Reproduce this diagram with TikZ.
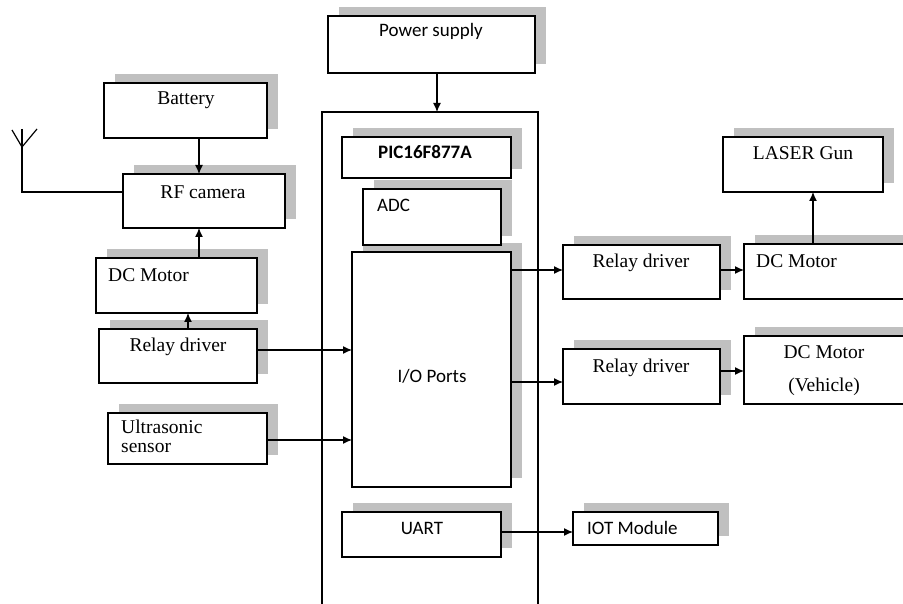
\documentclass[tikz,border=0pt]{standalone}
\usepackage{fontspec}
\setmainfont{Liberation Serif}
\newfontfamily\calib{Carlito}
\usetikzlibrary{arrows.meta,shadows}
\definecolor{shadowgray}{HTML}{C0C0C0}
\newcommand\bx[5]{\node[box,minimum width={(#4-#2)*1pt},minimum height={(#5-#3)*1pt}] (#1) at ({(#2+#4)/2},{(#3+#5)/2}) {};}
\newcommand\bxn[5]{\node[plainbox,minimum width={(#4-#2)*1pt},minimum height={(#5-#3)*1pt}] (#1) at ({(#2+#4)/2},{(#3+#5)/2}) {};}
\begin{document}
\begin{tikzpicture}[x=1pt,y=-1pt,
  plainbox/.style={draw=black,line width=1.2pt,fill=white,inner sep=0pt,outer sep=0pt},
  box/.style={plainbox,drop shadow={shadow xshift=11pt,shadow yshift=9pt,opacity=1,fill=shadowgray}},
  arr/.style={line width=1.2pt,-{Latex[length=9pt,width=8pt]}},
  conn/.style={line width=1.2pt},
  serif/.style={font=\fontsize{19.5}{21}\selectfont,inner sep=0pt},
  sans/.style={font=\calib\fontsize{19}{21}\selectfont,inner sep=0pt}]
\useasboundingbox (0,0) rectangle (903,604);
\clip (0,0) rectangle (903,604);
% boxes
\bx{power}{328}{16}{535}{73}
\bxn{big}{322}{112}{538}{640}
\bx{io}{352}{252}{511}{487}
\bx{pic}{342}{137}{511}{178}
\bx{adc}{363}{189}{501}{245}
\bx{uart}{342}{512}{501}{557}
\bx{iot}{573}{512}{718}{545}
\bx{battery}{104}{83}{267}{138}
\bx{rf}{123}{174}{285}{228}
\bx{dcmL}{96}{258}{257}{313}
\bx{relL}{99}{329}{257}{383}
\bx{ultra}{108}{413}{267}{464}
\bx{laser}{723}{137}{883}{192}
\bx{rel1}{563}{245}{720}{299}
\bx{dcm1}{744}{244}{930}{299}
\bx{rel2}{563}{349}{720}{404}
\bx{dcm2}{744}{336}{930}{404}
% texts
\node[sans] (tpower) at (431,31) {Power supply};
\node[sans,font=\calib\bfseries\fontsize{19}{21}\selectfont] (tpic) at (425,152) {PIC16F877A};
\node[sans,anchor=west] (tadc) at (377,205) {ADC};
\node[sans] (tio) at (432,376) {I/O Ports};
\node[sans] (tuart) at (422,528) {UART};
\node[sans,anchor=west] (tiot) at (587,528) {IOT Module};
\node[serif] (tbat) at (186,100) {Battery};
\node[serif] (trf) at (203,192) {RF camera};
\node[serif,anchor=west] (tdcmL) at (108,275) {DC Motor};
\node[serif] (trelL) at (178,347) {Relay driver};
\node[serif,anchor=west] (tul1) at (121,427) {Ultrasonic};
\node[serif,anchor=west] (tul2) at (121,448) {sensor};
\node[serif] (tlaser) at (803,153) {LASER Gun};
\node[serif] (trel1) at (641,263) {Relay driver};
\node[serif,anchor=west] (tdcm1) at (756,261) {DC Motor};
\node[serif] (trel2) at (641,368) {Relay driver};
\node[serif] (tdcm2a) at (824,352) {DC Motor};
\node[serif] (tdcm2b) at (824,387) {(Vehicle)};
% antenna
\coordinate (antTop) at (22,129);
\coordinate (antV) at (22,147);
\coordinate (antL) at (12,130);
\coordinate (antR) at (37,129);
\coordinate (antCorner) at (22,192);
\draw[conn] (antTop) -- (antCorner) -- (rf.west |- antCorner);
\draw[conn] (antL) -- (antV) -- (antR);
% connectors
\draw[arr] (power.south -| 437,0) -- (big.north -| 437,0);
\draw[arr] (battery.south -| 199,0) -- (rf.north -| 199,0);
\draw[arr] (dcmL.north -| 199,0) -- (rf.south -| 199,0);
\draw[arr] (relL.north -| 188,0) -- (dcmL.south -| 188,0);
\draw[arr] (relL.east |- 0,350) -- (io.west |- 0,350);
\draw[arr] (ultra.east |- 0,440) -- (io.west |- 0,440);
\draw[arr] (io.east |- 0,270) -- (rel1.west |- 0,270);
\draw[arr] (rel1.east |- 0,270) -- (dcm1.west |- 0,270);
\draw[arr] (dcm1.north -| 813,0) -- (laser.south -| 813,0);
\draw[arr] (io.east |- 0,382) -- (rel2.west |- 0,382);
\draw[arr] (rel2.east |- 0,371) -- (dcm2.west |- 0,371);
\draw[arr] (uart.east |- 0,532) -- (iot.west |- 0,532);
\end{tikzpicture}
\end{document}
